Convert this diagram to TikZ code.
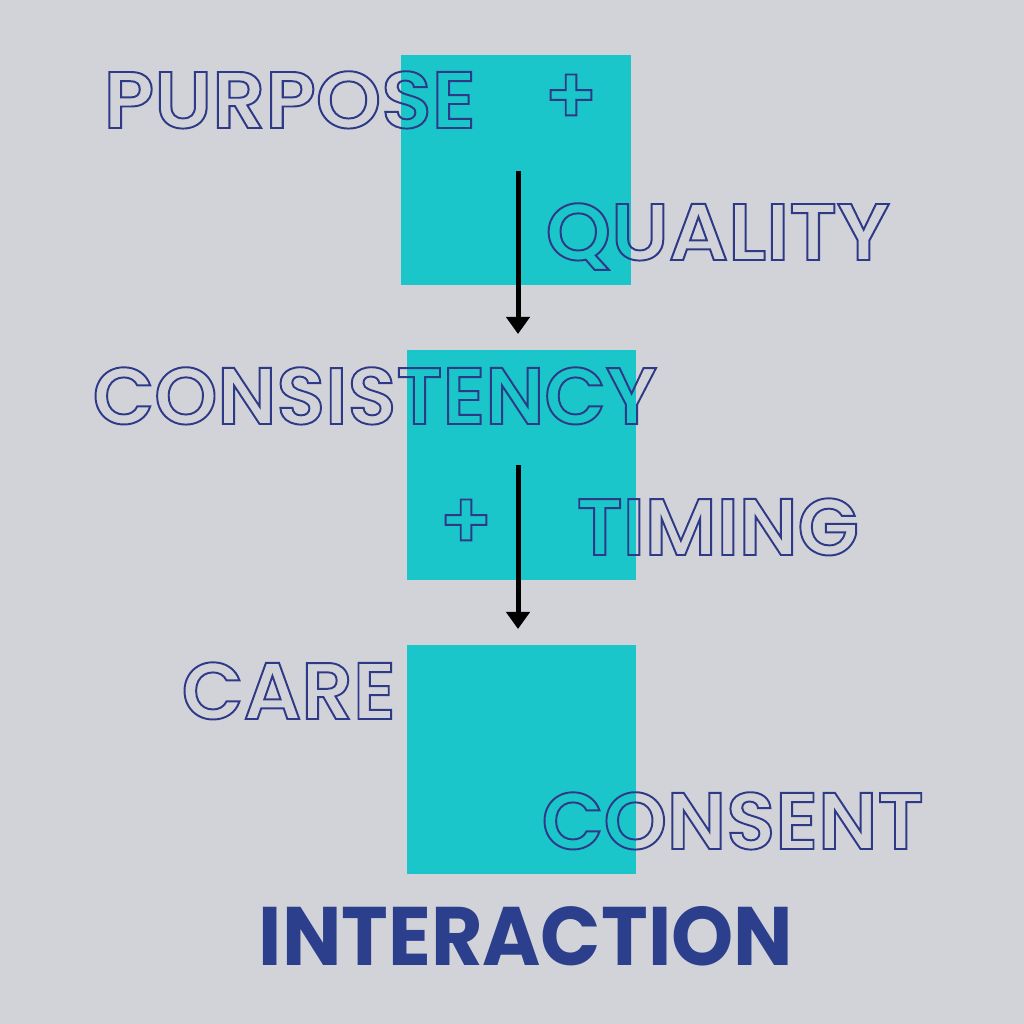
\documentclass[tikz,border=0pt]{standalone}
\usepackage{fontspec}
\usepackage{graphicx}
\usetikzlibrary{arrows.meta}
\setmainfont{Poppins}
\newfontfamily\popsemi{Poppins SemiBold}
\definecolor{bg}{HTML}{D2D3D8}
\definecolor{teal}{HTML}{1BC6CA}
\definecolor{navy}{HTML}{2E3A87}
\definecolor{navyfill}{HTML}{2B3F8C}
\newcommand\outl[1]{\special{pdf:literal direct 1 Tr 0.55 w}#1\special{pdf:literal direct 0 Tr}}
\newcommand\fitw[2]{\resizebox{#1}{\height}{#2}}
\tikzset{
  sq/.style={fill=teal, inner sep=0pt, minimum width=2.29cm, minimum height=2.29cm},
  word/.style={anchor=base west, inner sep=0pt, text=navy, font=\popsemi\fontsize{22.8}{24}\selectfont},
  plus/.style={anchor=center, inner sep=0pt, text=navy, font=\popsemi\fontsize{22.8}{24}\selectfont},
  big/.style={anchor=base west, inner sep=0pt, text=navyfill, font=\bfseries\fontsize{23.6}{25}\selectfont},
  arr/.style={line width=0.05cm, black, -{Triangle[width=0.23cm, length=0.17cm]}}
}
\begin{document}
\begin{tikzpicture}[x=0.01cm, y=-0.01cm]
\fill[bg] (0,0) rectangle (1024,1024);
\useasboundingbox (0,0) rectangle (1024,1024);
% squares
\node[sq] (s1) at (516,170) {};
\node[sq] (s2) at (521.5,465) {};
\node[sq] (s3) at (521.5,759.5) {};
% words
\node[word] (purpose) at (103,128) {\fitw{3.72cm}{\outl{PURPOSE}}};
\node[plus] (plus1) at (571,99) {\outl{+}};
\node[word] (quality) at (545,260) {\fitw{3.44cm}{\outl{QUALITY}}};
\node[word] (consistency) at (92,424) {\fitw{5.64cm}{\outl{CONSISTENCY}}};
\node[plus] (plus2) at (466,524) {\outl{+}};
\node[word] (timing) at (576,555) {\fitw{2.82cm}{\outl{TIMING}}};
\node[word] (care) at (181,719) {\fitw{2.14cm}{\outl{CARE}}};
\node[word] (consent) at (541,849) {\fitw{3.82cm}{\outl{CONSENT}}};
\node[big] (interaction) at (258,965) {\fitw{5.34cm}{INTERACTION}};
% arrows
\coordinate (a1s) at (518,171);
\coordinate (a1e) at (518,334);
\coordinate (a2s) at (518,465);
\coordinate (a2e) at (518,629);
\draw[arr] (a1s) -- (a1e);
\draw[arr] (a2s) -- (a2e);
\end{tikzpicture}
\end{document}
